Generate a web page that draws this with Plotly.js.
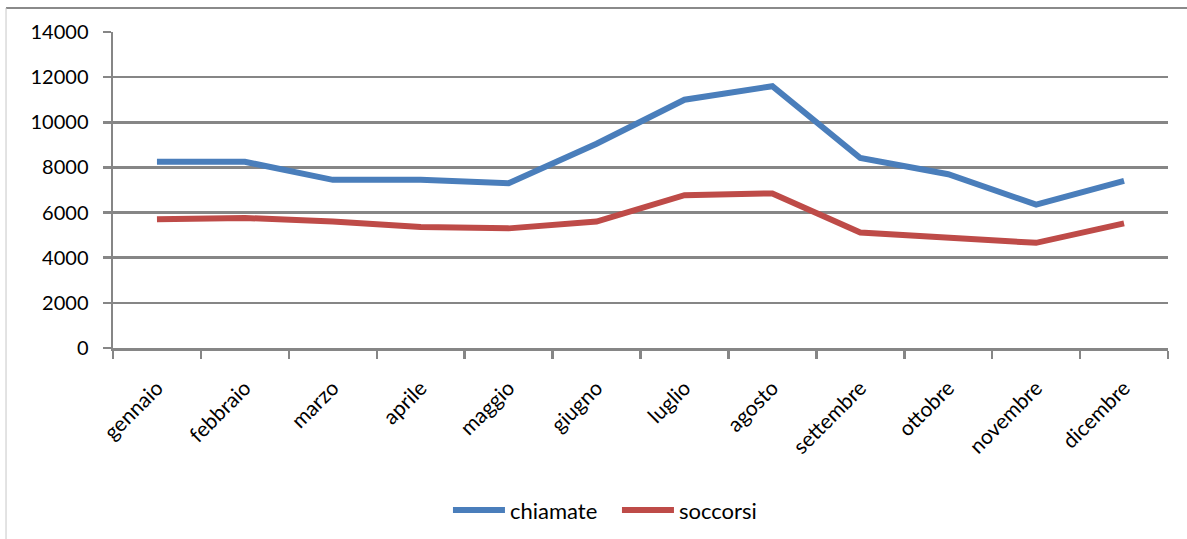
<!DOCTYPE html>
<html>
<head>
<meta charset="utf-8">
<script src="https://cdn.plot.ly/plotly-3.0.1.min.js"></script>
<style>html,body{margin:0;padding:0;background:#fff;}#chart{width:1187px;height:539px;}</style>
</head>
<body>
<div id="chart"></div>
<script>
const months = ["gennaio","febbraio","marzo","aprile","maggio","giugno","luglio","agosto","settembre","ottobre","novembre","dicembre"];
const chiamate = [8250, 8250, 7450, 7450, 7300, 9050, 11000, 11600, 8420, 7700, 6350, 7400];
const soccorsi = [5700, 5760, 5600, 5360, 5300, 5600, 6770, 6850, 5120, 4910, 4660, 5520];
const yTicks = [0, 2000, 4000, 6000, 8000, 10000, 12000, 14000];

const grid = "#868686";
const traces = [
  {x: months, y: chiamate, name: "chiamate", type: "scatter", mode: "lines",
   line: {color: "#4a7ebb", width: 6}},
  {x: months, y: soccorsi, name: "soccorsi", type: "scatter", mode: "lines",
   line: {color: "#be4b48", width: 6}}
];
const layout = {
  width: 1187, height: 539,
  margin: {l: 113, r: 19, t: 32, b: 191, autoexpand: false},
  paper_bgcolor: "#fff", plot_bgcolor: "#fff",
  font: {family: "Lato, 'Liberation Sans', sans-serif", size: 20, color: "#000"},
  showlegend: true,
  legend: {orientation: "h", x: 0.3175, xanchor: "left", y: -0.513, yanchor: "middle",
           font: {size: 22}, itemwidth: 52, entrywidth: 102, entrywidthmode: "pixels"},
  xaxis: {
    type: "category", tickangle: -45, tickson: "boundaries",
    ticks: "outside", ticklen: 8, tickwidth: 2.5, tickcolor: grid,
    ticklabelstandoff: 17, tickfont: {size: 21},
    showline: true, linecolor: grid, linewidth: 2.5,
    showgrid: false, zeroline: false, fixedrange: true, automargin: false,
    range: [-0.5, 11.5]
  },
  yaxis: {
    range: [0, 14000], tickvals: yTicks, ticktext: yTicks.map(String),
    ticks: "outside", ticklen: 8, tickwidth: 2.5, tickcolor: grid,
    ticklabelstandoff: 10,
    showline: true, linecolor: grid, linewidth: 2.5,
    showgrid: true, gridcolor: grid, gridwidth: 2.5,
    zeroline: false, fixedrange: true, automargin: false
  },
  shapes: [
    {type: "line", xref: "paper", yref: "paper", x0: -0.1014, x1: 1.02, y0: 1.076, y1: 1.076,
     line: {color: "#8a8a8a", width: 2}},
    {type: "line", xref: "paper", yref: "paper", x0: -0.1014, x1: -0.1014, y0: 1.076, y1: -0.61,
     line: {color: "#c8c8c8", width: 1}}
  ]
};
Plotly.newPlot("chart", traces, layout, {displayModeBar: false, staticPlot: true});
</script>
</body>
</html>
